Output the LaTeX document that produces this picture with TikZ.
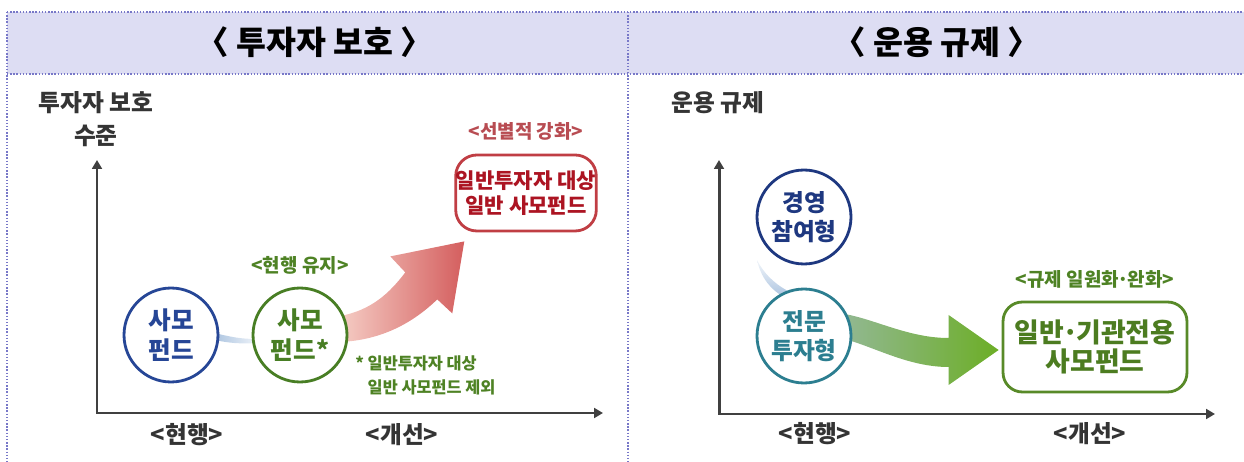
\documentclass[tikz,border=0pt]{standalone}
\usepackage{fontspec}
\setmainfont{Noto Sans CJK KR}
\usepackage{xcolor}
\usetikzlibrary{positioning,calc,arrows.meta,backgrounds}

\definecolor{hdrfill}{RGB}{221,221,243}
\definecolor{hdrline}{RGB}{120,120,200}
\definecolor{axisgray}{RGB}{64,64,64}
\definecolor{axistxt}{RGB}{52,52,52}
\definecolor{fundblue}{RGB}{38,70,150}
\definecolor{fundgreen}{RGB}{72,126,36}
\definecolor{keepgreen}{RGB}{78,130,36}
\definecolor{boxred}{RGB}{192,62,68}
\definecolor{txtred}{RGB}{172,20,34}
\definecolor{selred}{RGB}{184,76,82}
\definecolor{arrowpink}{RGB}{245,204,196}
\definecolor{arrowred}{RGB}{212,94,94}
\definecolor{mgmtnavy}{RGB}{30,56,128}
\definecolor{proteal}{RGB}{44,126,144}
\definecolor{arrowsage}{RGB}{146,184,146}
\definecolor{arrowlime}{RGB}{108,174,38}
\definecolor{genbox}{RGB}{88,138,40}
\definecolor{gentxt}{RGB}{76,124,32}
\definecolor{swooshblue}{RGB}{172,196,224}

\newcommand{\gdot}{\makebox[0.45em]{·}}

\tikzset{
  frame/.style={hdrline, densely dotted, line width=0.8pt},
  hdr/.style={font=\fontsize{18.5}{22}\selectfont\bfseries},
  axisline/.style={axisgray, line width=1.7pt, {Triangle[length=5pt,width=5.5pt]}-{Triangle[length=5pt,width=5.5pt]}},
  axislbl/.style={font=\fontsize{13.5}{18.7}\selectfont\bfseries, text=axistxt, align=center},
  fund/.style={circle, draw, line width=1.6pt, minimum size=1.88cm, inner sep=0pt, fill=white,
    align=center, font=\fontsize{14}{17}\selectfont\bfseries},
  smalllbl/.style={font=\fontsize{10.8}{13}\selectfont\bfseries, inner sep=1pt},
  newbox/.style={draw, line width=1.6pt, fill=white, align=center, inner sep=0pt},
}

\begin{document}
\begin{tikzpicture}[x=0.02cm, y=-0.02cm]
\useasboundingbox (0,0) rectangle (1244,462);

% header
\fill[hdrfill] (7,12) rectangle (1250,74);
\draw[frame] (7,12) -- (1250,12);
\draw[frame] (7,74) -- (1250,74);
\draw[frame] (7,12) -- (7,470);
\draw[frame] (628,12) -- (628,470);
\node[hdr] (titleL) at (315,42) {〈 투자자 보호 〉};
\node[hdr] (titleR) at (937,42) {〈 운용 규제 〉};

% left: investor protection
\coordinate (lo) at (97,413);
\coordinate (ly) at (97,160);
\coordinate (lx) at (603,413);
\draw[axisline] (ly) -- (lo) -- (lx);
\node[axislbl] (ylblL) at (96,119) {투자자 보호\\수준};
\node[axislbl] (nowL) at (187,435) {<현행>};
\node[axislbl] (newL) at (402,435) {<개선>};

\node[fund, draw=fundblue, text=fundblue] (fundold) at (171,335) {사모\\펀드};
\node[fund, draw=fundgreen, text=fundgreen] (fundkeep) at (300,335) {사모\\펀드*};
\node[smalllbl, text=keepgreen, above=0.2cm of fundkeep] (keeplbl) {<현행 유지>};

\node[newbox, draw=boxred, text=txtred, rounded corners=12pt, minimum width=2.76cm, minimum height=1.52cm,
  font=\fontsize{12}{14.4}\selectfont\bfseries] (selbox) at (526,193) {일반투자자 대상\\일반 사모펀드};
\node[smalllbl, text=selred, above=0.22cm of selbox] (sellbl) {<선별적 강화>};

\node[font=\fontsize{9.3}{13.6}\selectfont\bfseries, text=keepgreen, align=left, anchor=west, inner sep=0pt]
  (note) at (355,375) {* 일반투자자 대상\\\phantom{* }일반 사모펀드 제외};

\begin{scope}[on background layer]
\shade[left color=swooshblue, right color=swooshblue!20]
  ($(fundold.east)+(-5,-2)$) .. controls +(17,4) and +(-16,0) .. ($(fundkeep.west)+(5,4)$)
  -- ($(fundkeep.west)+(5,8)$) .. controls +(-18,1) and +(15,3) .. ($(fundold.east)+(-5,5)$) -- cycle;
\coordinate (redtip) at ($(selbox.south west)+(10,9)$);
\shade[left color=arrowpink, right color=arrowred]
  ($(fundkeep.east)+(-8,-19)$) .. controls +(31,-6) and +(-16,21) .. ($(redtip)+(-59,31)$)
  -- ($(redtip)+(-74,15)$) -- (redtip) -- ($(redtip)+(-12,72)$) -- ($(redtip)+(-27,58)$)
  .. controls +(-25,24) and +(41,-2) .. ($(fundkeep.east)+(-8,7)$) -- cycle;
\end{scope}

% right: operating rules
\coordinate (ro) at (719,414);
\coordinate (ry) at (719,160);
\coordinate (rx) at (1215,414);
\draw[axisline] (ry) -- (ro) -- (rx);
\node[axislbl] (ylblR) at (718,103) {운용 규제};
\node[axislbl] (nowR) at (815,434) {<현행>};
\node[axislbl] (newR) at (1090,434) {<개선>};

\node[fund, draw=mgmtnavy, text=mgmtnavy, font=\fontsize{13.5}{16.4}\selectfont\bfseries] (mgmt) at (804,217) {경영\\참여형};
\node[fund, draw=proteal, text=proteal, font=\fontsize{13.5}{16.4}\selectfont\bfseries] (pro) at (804,336) {전문\\투자형};

\node[newbox, draw=genbox, text=gentxt, rounded corners=11pt, minimum width=3.68cm, minimum height=1.8cm,
  font=\fontsize{15.3}{16.4}\selectfont\bfseries] (genbox) at (1095,347) {일반\gdot 기관전용\\사모펀드};
\node[smalllbl, text=keepgreen, above=0.2cm of genbox] (genlbl) {<규제 일원화\gdot 완화>};

\begin{scope}[on background layer]
\shade[top color=swooshblue!15, bottom color=swooshblue]
  ($(mgmt.center)+(-47,43)$) .. controls +(6,12) and +(-15,-8) .. ($(pro.center)+(-16,-45)$)
  -- ($(pro.center)+(-20,-39)$) .. controls +(-13,-7) and +(4,18) .. ($(mgmt.center)+(-47,43)$) -- cycle;
\coordinate (greentip) at ($(genbox.west)+(-3,3)$);
\shade[left color=arrowsage, right color=arrowlime]
  ($(pro.east)+(-8,-22)$) .. controls +(30,5) and +(-40,0) .. ($(greentip)+(-50,-12)$)
  -- ($(greentip)+(-50,-35)$) -- (greentip) -- ($(greentip)+(-50,35)$) -- ($(greentip)+(-50,17)$)
  .. controls +(-40,0) and +(30,8) .. ($(pro.east)+(-8,3)$) -- cycle;
\end{scope}
\end{tikzpicture}
\end{document}
